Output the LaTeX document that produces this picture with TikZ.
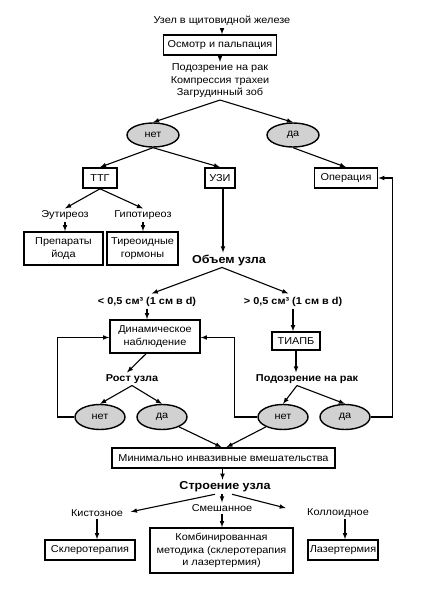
\documentclass[tikz,border=0pt]{standalone}
\usepackage{fontspec}
\setmainfont[FakeStretch=1.09]{Liberation Sans}
\usepackage{tikz}
\usetikzlibrary{arrows,shapes.geometric}

\begin{document}
\begin{tikzpicture}[x=1pt,y=-1pt,
    font=\fontsize{10}{12.5}\selectfont,
    line width=1.1pt,
    box/.style={draw,line width=1.6pt,inner sep=1pt,align=center},
    txt/.style={inner sep=1.5pt,align=center},
    head/.style={txt,font=\fontsize{10}{12}\selectfont\bfseries},
    bighead/.style={txt,font=\fontsize{11.5}{13}\selectfont\bfseries},
    answer/.style={draw,ellipse,fill=black!18,line width=1.4pt,inner sep=0pt},
    arr/.style={-latex}]
  \useasboundingbox (0,0) rectangle (430,600);

  % start and first check
  \node[txt] (node) at (222,21) {Узел в щитовидной железе};
  \node[box,minimum width=113,minimum height=20] (osm) at (220,45) {Осмотр и пальпация};
  \node[txt] (susp1) at (220,81) {Подозрение на рак\\Компрессия трахеи\\Загрудинный зоб};
  \draw[arr] (node) -- (node |- osm.north);
  \draw[arr] (osm.south) -- (osm.south |- susp1.north);

  % first answers
  \node[answer,minimum width=52,minimum height=24] (no0) at (153,135) {нет};
  \node[answer,minimum width=52,minimum height=24] (yes0) at (293,135) {да};
  \draw[arr] (susp1.south) -- (no0.north);
  \draw[arr] (susp1.south) -- (yes0.north);

  % second row of boxes
  \node[box,minimum width=34,minimum height=20] (ttg) at (100,178) {ТТГ};
  \node[box,minimum width=30,minimum height=20] (uzi) at (220,178) {УЗИ};
  \node[box,minimum width=63,minimum height=20] (op) at (346,178) {Операция};
  \draw[arr] (no0.south) -- (ttg.north);
  \draw[arr] (no0.south) -- (uzi.north);
  \draw[arr] (yes0.south) -- (op.north);

  % thyroid function
  \node[txt] (eu) at (65,215) {Эутиреоз};
  \node[txt] (hypo) at (143,215) {Гипотиреоз};
  \draw[arr] (ttg.south) -- (eu.north);
  \draw[arr] (ttg.south) -- (hypo.north);
  \node[box,minimum width=79,minimum height=33] (iod) at (63.5,248.5) {Препараты\\йода};
  \node[box,minimum width=71,minimum height=33] (horm) at (142.5,248.5) {Тиреоидные\\гормоны};
  \draw[arr] (eu.south) -- (eu.south |- iod.north);
  \draw[arr] (hypo.south) -- (hypo.south |- horm.north);

  % volume of the nodule
  \node[bighead] (vol) at (229,260) {Объем узла};
  \draw[arr] (uzi.south) ++(3,0) coordinate (uzib) -- (uzib |- vol.north);
  \node[head] (small) at (147,302) {< 0,5 см³ (1 см в d)};
  \node[head] (large) at (293,302) {> 0,5 см³ (1 см в d)};
  \draw[arr,shorten >=5pt] ([xshift=-7]vol.south) -- (small.north);
  \draw[arr,shorten >=5pt] ([xshift=-7]vol.south) -- (large.north);

  % follow-up and biopsy
  \node[box,minimum width=90,minimum height=33] (dyn) at (155,336.5) {Динамическое\\наблюдение};
  \node[box,minimum width=48,minimum height=18] (tia) at (296,341) {ТИАПБ};
  \draw[arr] (small.south) -- (small.south |- dyn.north);
  \draw[arr] (large.south) -- (large.south |- tia.north);

  \node[head] (grow) at (132,379) {Рост узла};
  \node[head] (susp2) at (307,379) {Подозрение на рак};
  \draw[arr] ([xshift=-9]dyn.south) -- ([xshift=-5]grow.north);
  \draw[arr] (tia.south) -- (tia.south |- susp2.north);

  % lower answers
  \node[answer,minimum width=50,minimum height=25] (no1) at (100,417) {нет};
  \node[answer,minimum width=50,minimum height=25] (yes1) at (162,417) {да};
  \node[answer,minimum width=50,minimum height=25] (no2) at (283,417) {нет};
  \node[answer,minimum width=50,minimum height=25] (yes2) at (345,417) {да};
  \draw[arr] (grow.south) -- (no1.north);
  \draw[arr] (grow.south) -- (yes1.north);
  \draw[arr] ([xshift=-10]susp2.south) -- (no2.north);
  \draw[arr] ([xshift=-10]susp2.south) -- (yes2.north);

  % loops back
  \draw[arr] (no1.west) -- ++(-17,0) |- ([yshift=-1]dyn.west);
  \draw[arr] (no2.west) -- ++(-23,0) |- ([yshift=-1]dyn.east);
  \draw[arr] (yes2.east) -- ++(22,0) |- (op.east);

  % minimally invasive
  \node[box,minimum width=223,minimum height=20] (min) at (223.5,458) {Минимально инвазивные вмешательства};
  \draw[arr] (yes1.-30) -- ([xshift=-2]min.north);
  \draw[arr] (no2.210) -- ([xshift=3]min.north);

  % structure of the nodule
  \node[bighead] (str) at (225,487) {Строение узла};
  \draw[arr] (min.south) ++(-1,0) coordinate (minb) -- (minb |- str.north);
  \node[txt] (cyst) at (97,513) {Кистозное};
  \node[txt] (mix) at (222,508) {Смешанное};
  \node[txt] (coll) at (338,513) {Коллоидное};
  \draw[arr,shorten >=6pt] ([xshift=-10]str.south) -- (cyst.east);
  \draw[arr] ([xshift=-3]str.south) -- (mix.north);
  \draw[arr,shorten >=20pt] ([xshift=7]str.south) -- (coll.west);

  % treatments
  \node[box,minimum width=90,minimum height=20] (scl) at (90,550) {Склеротерапия};
  \node[box,minimum width=143,minimum height=45] (comb) at (221.5,550.5) {Комбинированная\\методика (склеротерапия\\и лазертермия)};
  \node[box,minimum width=70,minimum height=20] (las) at (343,550) {Лазертермия};
  \draw[arr] (cyst.south) -- (cyst.south |- scl.north);
  \draw[arr] (mix.south) -- (mix.south |- comb.north);
  \draw[arr] ([xshift=7]coll.south) coordinate (collb) -- (collb |- las.north);

\end{tikzpicture}
\end{document}
